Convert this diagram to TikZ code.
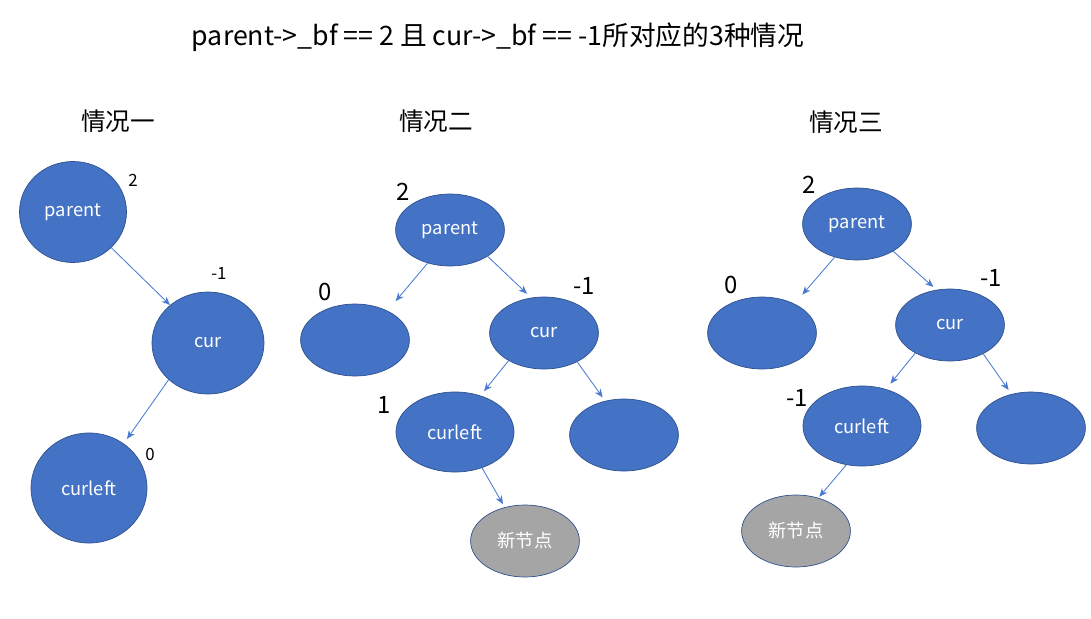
\documentclass[tikz,border=0pt]{standalone}
\usepackage{fontspec}
\setmainfont{Noto Sans CJK SC}
\usetikzlibrary{shapes.geometric, arrows.meta}
\definecolor{nodeblue}{HTML}{4472C4}
\definecolor{rimblue}{HTML}{2F528F}
\definecolor{newgray}{HTML}{A5A5A5}
\definecolor{arrblue}{HTML}{4A7BD0}

\begin{document}
\begin{tikzpicture}[
  x=0.025cm, y=-0.025cm,
  tnode/.style={ellipse, draw=rimblue, fill=nodeblue, line width=0.5pt, text=white,
               inner sep=0pt, minimum width=2.72cm, minimum height=1.8cm,
               font=\fontsize{13}{15}\selectfont},
  wnode/.style={tnode, minimum width=2.95cm, minimum height=2cm},
  newnode/.style={tnode, fill=newgray},
  bfbig/.style={font=\fontsize{17}{20}\selectfont},
  bfsmall/.style={font=\fontsize{12}{14}\selectfont},
  lbl/.style={font=\fontsize{17.5}{21}\selectfont},
  arr/.style={->, >={Stealth[length=6pt,width=5pt]}, draw=arrblue, line width=0.6pt}
]
\useasboundingbox (0,0) rectangle (1091,618);

%% --- Title ---
\node[lbl, font=\fontsize{19}{22}\selectfont] (title) at (498,37)
  {parent->\_bf == 2 且 cur->\_bf == -1所对应的3种情况};

%% --- Case 1 (left) ---
\node[lbl] (t1) at (118,121) {情况一};
\node[tnode, minimum width=2.675cm, minimum height=2.525cm] (p1)  at (73,212) {parent};
\node[tnode, minimum width=2.8cm,   minimum height=2.55cm]  (c1)  at (208,343) {cur};
\node[tnode, minimum width=2.9cm,   minimum height=2.75cm]  (cl1) at (89,488) {curleft};
\node[bfsmall] (b1p)  at (133,180) {2};
\node[bfsmall] (b1c)  at (219,273) {-1};
\node[bfsmall] (b1cl) at (150,454) {0};

\draw[arr] (p1.-43) -- (c1.135);
\draw[arr, shorten >=4pt] (c1.-137) -- (cl1.52);

%% --- Case 2 (middle) ---
\node[lbl] (t2) at (436,121) {情况二};
\node[tnode]   (p2)  at (450,230) {parent};
\node[tnode]   (l2)  at (355,340) {};
\node[tnode]   (c2)  at (544,333) {cur};
\node[wnode]   (cl2) at (455,432) {curleft};
\node[tnode]   (r2)  at (624,435) {};
\node[newnode] (n2)  at (525,541) {新节点};
\node[bfbig] (b2p)  at (403,192) {2};
\node[bfbig] (b2l)  at (325,292) {0};
\node[bfbig] (b2c)  at (584,286) {-1};
\node[bfbig] (b2cl) at (384,405) {1};

\draw[arr, shorten >=9pt] (p2.-124) -- (l2.42);
\draw[arr, shorten >=4pt] (p2.-35) -- (c2.110);
\draw[arr, shorten >=4pt] (c2.-142) -- (cl2.55);
\draw[arr, shorten >=3pt] (c2.-41) -- (r2.119);
\draw[arr, shorten >=2.5pt] (cl2.-53) -- (n2.121);

%% --- Case 3 (right) ---
\node[lbl] (t3) at (846,122) {情况三};
\node[tnode]   (p3)  at (857,224) {parent};
\node[tnode]   (l3)  at (762,333) {};
\node[tnode]   (c3)  at (950,325) {cur};
\node[wnode]   (cl3) at (862,426) {curleft};
\node[tnode]   (r3)  at (1031,428) {};
\node[newnode] (n3)  at (796,531) {新节点};
\node[bfbig] (b3p)  at (809,185) {2};
\node[bfbig] (b3l)  at (731,285) {0};
\node[bfbig] (b3c)  at (991,278) {-1};
\node[bfbig] (b3cl) at (797,398) {-1};

\draw[arr, shorten >=8.5pt] (p3.-124) -- (l3.42);
\draw[arr, shorten >=3pt] (p3.-37) -- (c3.111);
\draw[arr, shorten >=5pt] (c3.-141) -- (cl3.57);
\draw[arr, shorten >=3.5pt] (c3.-41) -- (r3.120);
\draw[arr, shorten >=1pt] (cl3.-112) -- (n3.56);

\end{tikzpicture}
\end{document}
